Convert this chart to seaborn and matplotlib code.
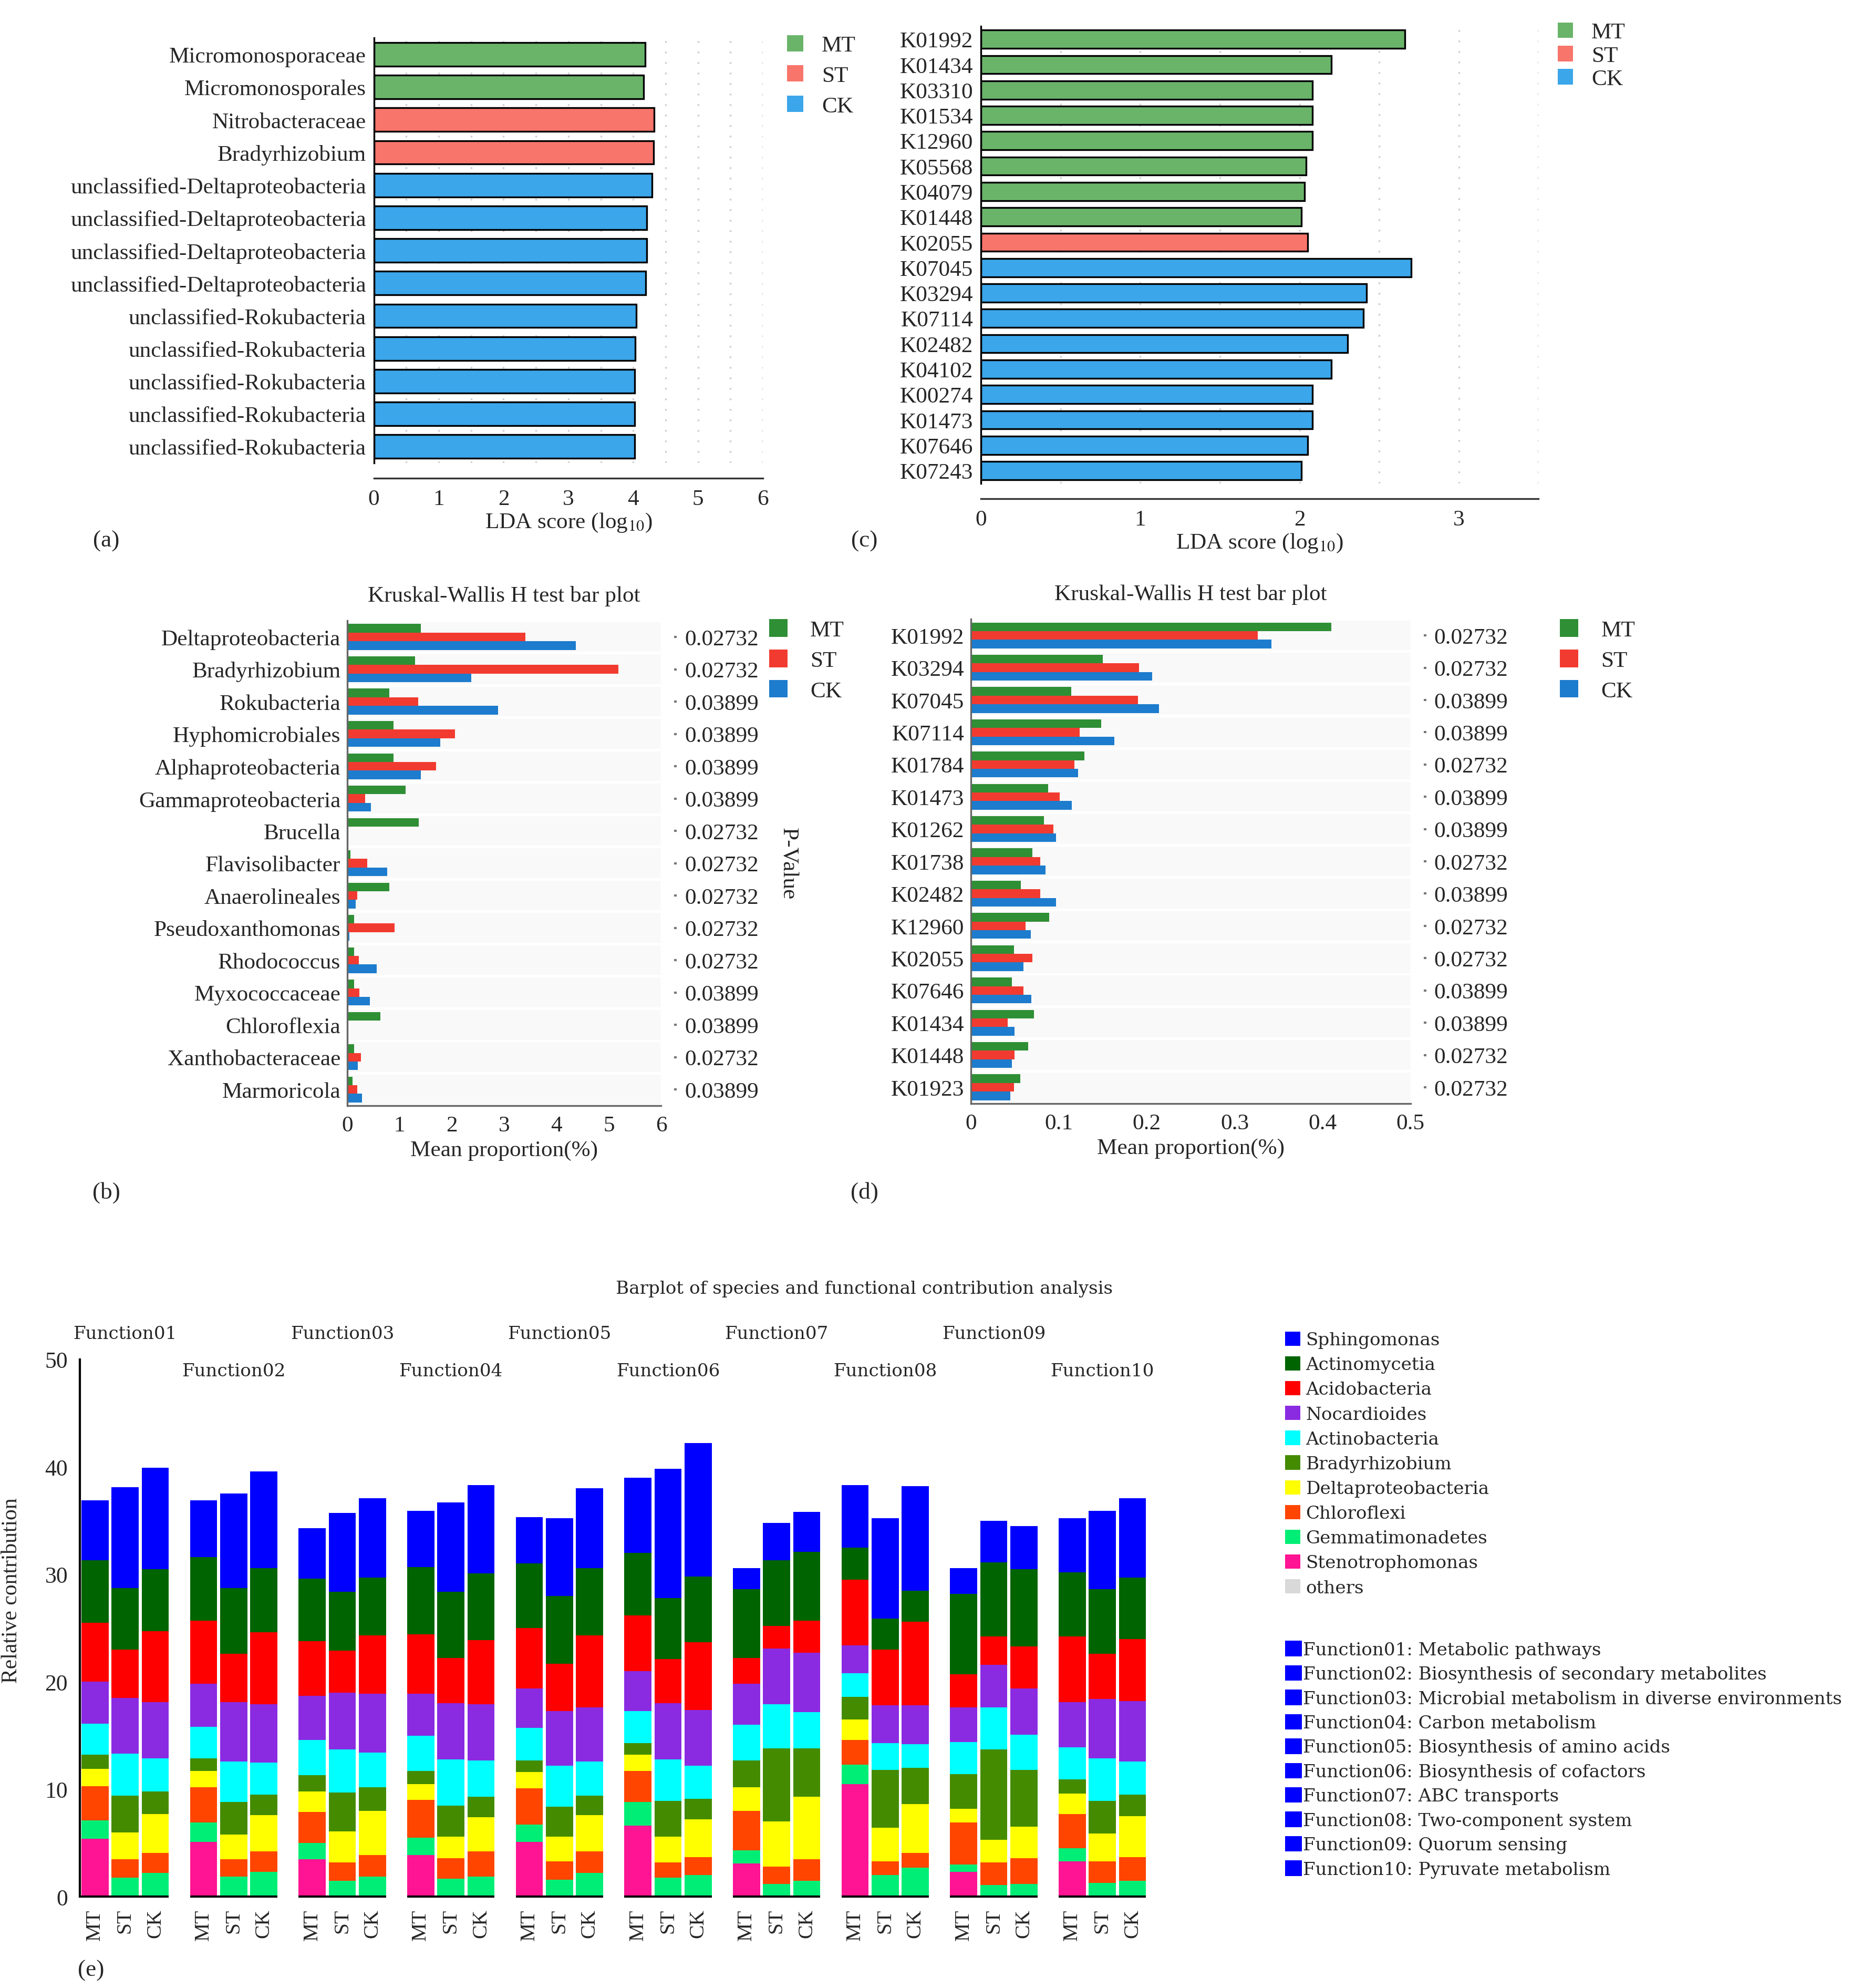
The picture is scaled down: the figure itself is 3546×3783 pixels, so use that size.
import numpy as np
import pandas as pd
import matplotlib
matplotlib.use("Agg")
import matplotlib.pyplot as plt
import seaborn as sns
from matplotlib.patches import Patch
from matplotlib.ticker import MultipleLocator, FuncFormatter

# ---------------- data ----------------
groups = ["MT", "ST", "CK"]

# (a) LEfSe, taxa
lda_a_taxa = ["Micromonosporaceae", "Micromonosporales", "Nitrobacteraceae", "Bradyrhizobium",
              "unclassified-Deltaproteobacteria", "unclassified-Deltaproteobacteria",
              "unclassified-Deltaproteobacteria", "unclassified-Deltaproteobacteria",
              "unclassified-Rokubacteria", "unclassified-Rokubacteria", "unclassified-Rokubacteria",
              "unclassified-Rokubacteria", "unclassified-Rokubacteria"]
lda_a_group = ["MT", "MT", "ST", "ST", "CK", "CK", "CK", "CK", "CK", "CK", "CK", "CK", "CK"]
lda_a_score = [4.18, 4.16, 4.32, 4.31, 4.29, 4.21, 4.21, 4.19, 4.05, 4.03, 4.02, 4.02, 4.02]

# (c) LEfSe, KO
lda_c_ko = ["K01992", "K01434", "K03310", "K01534", "K12960", "K05568", "K04079", "K01448", "K02055",
            "K07045", "K03294", "K07114", "K02482", "K04102", "K00274", "K01473", "K07646", "K07243"]
lda_c_group = ["MT", "MT", "MT", "MT", "MT", "MT", "MT", "MT", "ST",
               "CK", "CK", "CK", "CK", "CK", "CK", "CK", "CK", "CK"]
lda_c_score = [2.66, 2.20, 2.08, 2.08, 2.08, 2.04, 2.03, 2.01, 2.05,
               2.70, 2.42, 2.40, 2.30, 2.20, 2.08, 2.08, 2.05, 2.01]

# (b) Kruskal-Wallis, taxa (mean proportion %)
kw_b_taxa = ["Deltaproteobacteria", "Bradyrhizobium", "Rokubacteria", "Hyphomicrobiales",
             "Alphaproteobacteria", "Gammaproteobacteria", "Brucella", "Flavisolibacter",
             "Anaerolineales", "Pseudoxanthomonas", "Rhodococcus", "Myxococcaceae",
             "Chloroflexia", "Xanthobacteraceae", "Marmoricola"]
kw_b_mt = [1.41, 1.30, 0.80, 0.88, 0.88, 1.12, 1.37, 0.06, 0.80, 0.13, 0.13, 0.13, 0.63, 0.13, 0.10]
kw_b_st = [3.40, 5.18, 1.36, 2.06, 1.70, 0.34, 0.02, 0.38, 0.19, 0.90, 0.22, 0.23, 0.02, 0.26, 0.19]
kw_b_ck = [4.37, 2.37, 2.88, 1.78, 1.41, 0.45, 0.02, 0.76, 0.16, 0.04, 0.56, 0.43, 0.02, 0.20, 0.28]
kw_b_p = ["0.02732", "0.02732", "0.03899", "0.03899", "0.03899", "0.03899", "0.02732", "0.02732",
          "0.02732", "0.02732", "0.02732", "0.03899", "0.03899", "0.02732", "0.03899"]

# (d) Kruskal-Wallis, KO (mean proportion %)
kw_d_ko = ["K01992", "K03294", "K07045", "K07114", "K01784", "K01473", "K01262", "K01738",
           "K02482", "K12960", "K02055", "K07646", "K01434", "K01448", "K01923"]
kw_d_mt = [0.410, 0.150, 0.114, 0.148, 0.129, 0.088, 0.083, 0.070, 0.057, 0.089, 0.049, 0.047, 0.072, 0.065, 0.056]
kw_d_st = [0.326, 0.191, 0.190, 0.124, 0.118, 0.101, 0.094, 0.079, 0.079, 0.062, 0.070, 0.060, 0.042, 0.050, 0.049]
kw_d_ck = [0.342, 0.206, 0.214, 0.163, 0.122, 0.115, 0.097, 0.085, 0.097, 0.068, 0.060, 0.069, 0.050, 0.047, 0.045]
kw_d_p = ["0.02732", "0.02732", "0.03899", "0.03899", "0.02732", "0.03899", "0.03899", "0.02732",
          "0.03899", "0.02732", "0.02732", "0.03899", "0.03899", "0.02732", "0.02732"]

# (e) species contribution to functions, bars = Function01..10 x (MT, ST, CK)
functions = ["Function01", "Function02", "Function03", "Function04", "Function05",
             "Function06", "Function07", "Function08", "Function09", "Function10"]
function_names = ["Metabolic pathways", "Biosynthesis of secondary metabolites",
                  "Microbial metabolism in diverse environments", "Carbon metabolism",
                  "Biosynthesis of amino acids", "Biosynthesis of cofactors", "ABC transports",
                  "Two-component system", "Quorum sensing", "Pyruvate metabolism"]
species = ["Sphingomonas", "Actinomycetia", "Acidobacteria", "Nocardioides", "Actinobacteria",
           "Bradyrhizobium", "Deltaproteobacteria", "Chloroflexi", "Gemmatimonadetes",
           "Stenotrophomonas", "others"]
sphingomonas = [5.6, 9.4, 9.4, 5.3, 8.8, 9.0, 4.7, 7.3, 7.4, 5.2, 8.3, 8.2, 4.3, 7.2, 7.4,
                7.0, 12.0, 12.4, 2.0, 3.5, 3.7, 5.8, 9.3, 9.7, 2.4, 3.9, 4.0, 5.0, 7.3, 7.4]
actinomycetia = [5.8, 5.7, 5.8, 5.9, 6.1, 6.0, 5.8, 5.5, 5.4, 6.3, 6.2, 6.2, 6.0, 6.3, 6.3,
                 5.8, 5.7, 6.1, 6.4, 6.1, 6.4, 3.0, 2.9, 2.9, 7.5, 6.9, 7.2, 6.0, 6.0, 5.7]
acidobacteria = [5.5, 4.5, 6.6, 5.9, 4.5, 6.7, 5.1, 3.9, 5.4, 5.5, 4.2, 6.0, 5.6, 4.4, 6.7,
                 5.2, 4.1, 6.3, 2.4, 2.1, 3.0, 6.1, 5.2, 7.8, 3.1, 2.6, 3.9, 6.1, 4.2, 5.8]
nocardioides = [3.9, 5.2, 5.2, 4.0, 5.5, 5.4, 4.1, 5.3, 5.5, 3.9, 5.2, 5.2, 3.7, 5.1, 5.0,
                3.7, 5.2, 5.2, 3.8, 5.2, 5.5, 2.6, 3.5, 3.6, 3.2, 4.0, 4.3, 4.2, 5.5, 5.6]
actinobacteria = [2.9, 3.9, 3.1, 2.9, 3.8, 3.0, 3.3, 4.0, 3.2, 3.3, 4.3, 3.4, 3.0, 3.8, 3.2,
                  3.0, 3.9, 3.1, 3.3, 4.1, 3.4, 2.2, 2.5, 2.2, 3.0, 3.9, 3.3, 3.0, 4.0, 3.1]
bradyrhizobium = [1.3, 3.4, 2.1, 1.2, 3.0, 1.9, 1.5, 3.6, 2.2, 1.2, 2.9, 1.9, 1.1, 2.8, 1.8,
                  1.1, 3.3, 1.9, 2.5, 6.8, 4.5, 2.1, 5.4, 3.4, 3.2, 8.4, 5.3, 1.3, 3.0, 2.0]
deltaproteobacteria = [1.6, 2.5, 3.6, 1.5, 2.3, 3.4, 1.9, 2.9, 4.1, 1.5, 2.0, 3.2, 1.5, 2.3, 3.4,
                       1.5, 2.4, 3.5, 2.2, 4.2, 5.8, 1.9, 3.1, 4.5, 1.3, 2.1, 2.9, 1.9, 2.6, 3.8]
chloroflexi = [3.2, 1.7, 1.9, 3.3, 1.6, 1.9, 2.9, 1.7, 2.0, 3.5, 1.9, 2.3, 3.4, 1.7, 2.0,
               2.9, 1.4, 1.7, 3.7, 1.6, 2.0, 2.3, 1.3, 1.4, 3.9, 2.1, 2.4, 3.2, 2.0, 2.2]
gemmatimonadetes = [1.7, 1.8, 2.2, 1.8, 1.9, 2.3, 1.5, 1.5, 1.9, 1.6, 1.7, 1.9, 1.6, 1.6, 2.2,
                    2.2, 1.8, 2.0, 1.2, 1.2, 1.5, 1.8, 2.0, 2.7, 0.7, 1.1, 1.2, 1.2, 1.3, 1.5]
stenotrophomonas = [5.4, 0, 0, 5.1, 0, 0, 3.5, 0, 0, 3.9, 0, 0, 5.1, 0, 0,
                    6.6, 0, 0, 3.1, 0, 0, 10.5, 0, 0, 2.3, 0, 0, 3.3, 0, 0]
others = [0] * 30

species_values = [sphingomonas, actinomycetia, acidobacteria, nocardioides, actinobacteria,
                  bradyrhizobium, deltaproteobacteria, chloroflexi, gemmatimonadetes,
                  stenotrophomonas, others]
species_colors = ["#0000FF", "#006400", "#FF0000", "#8A2BE2", "#00FFFF", "#458B00",
                  "#FFFF00", "#FF4500", "#00EE76", "#FF1493", "#D9D9D9"]

lefse_colors = {"MT": "#6AB46A", "ST": "#F8756B", "CK": "#3BA6EA"}
kw_colors = {"MT": "#2F8F35", "ST": "#F23B30", "CK": "#1D7CCD"}

# ---------------- figure ----------------
sns.set_style("white")
plt.rcParams["font.family"] = ["Liberation Serif", "DejaVu Serif"]
plt.rcParams["mathtext.fontset"] = "stix"

FS = 10.4
W, H = 1470.0, 1569.0
fig = plt.figure(figsize=(11.82, 12.613), dpi=300)


def box(x0, y0, x1, y1):
    return [x0 / W, 1 - y1 / H, (x1 - x0) / W, (y1 - y0) / H]


def square_legend(colors, labels, anchor, fs, size, spacing, pad, family=None):
    handles = [Patch(facecolor=c, edgecolor="none") for c in colors]
    prop = {"size": fs}
    if family:
        prop["family"] = family
    return fig.legend(handles, labels, loc="upper left", bbox_to_anchor=(anchor[0] / W, 1 - anchor[1] / H),
                      frameon=False, prop=prop, handlelength=size, handleheight=size,
                      handletextpad=pad, labelspacing=spacing, borderpad=0, borderaxespad=0)


def lefse_panel(rect, labels, scores, grp, xmax):
    ax = fig.add_axes(rect)
    df = pd.DataFrame({"row": range(len(labels)), "score": scores, "group": grp})
    sns.barplot(data=df, x="score", y="row", hue="group", hue_order=groups, orient="y",
                palette=lefse_colors, dodge=False, width=0.72, saturation=1,
                edgecolor="black", linewidth=0.8, legend=False, ax=ax)
    ax.set_xlim(0, xmax)
    ax.set_ylim(len(labels) - 0.5, -0.5)
    ax.set_yticks(range(len(labels)))
    ax.set_yticklabels(labels)
    ax.set_ylabel("")
    ax.set_xlabel("LDA score (log$_{10}$)", fontsize=FS, labelpad=1)
    ax.xaxis.set_major_locator(MultipleLocator(1))
    ax.xaxis.set_minor_locator(MultipleLocator(0.5))
    ax.grid(axis="x", which="both", linestyle=(0, (1, 5)), color="#cfcfcf", linewidth=0.8)
    ax.set_axisbelow(True)
    for s in ["top", "right"]:
        ax.spines[s].set_visible(False)
    ax.spines["bottom"].set_position(("outward", 7))
    ax.spines["bottom"].set_color("#333333")
    ax.spines["left"].set_color("black")
    ax.tick_params(axis="y", length=0, pad=3.5, labelsize=FS)
    ax.tick_params(axis="x", which="both", length=3.5, width=0.8, color="#333333",
                   direction="out", labelsize=FS, pad=1.5)
    return ax


def kw_panel(rect, labels, mt, st, ck, pvals, xmax, step, title):
    ax = fig.add_axes(rect)
    df = pd.DataFrame({"name": labels, "MT": mt, "ST": st, "CK": ck})
    df = df.melt(id_vars="name", var_name="group", value_name="prop")
    for i in range(len(labels)):
        ax.axhspan(i - 0.46, i + 0.46, color="#f9f9f9", lw=0, zorder=0)
    sns.barplot(data=df, x="prop", y="name", hue="group", hue_order=groups, order=labels,
                orient="y", palette=kw_colors, width=0.8, saturation=1, errorbar=None,
                linewidth=0, legend=False, ax=ax)
    ax.set_xlim(0, xmax)
    ax.set_ylim(len(labels) - 0.5, -0.5)
    ax.xaxis.set_major_locator(MultipleLocator(step))
    ax.xaxis.set_major_formatter(FuncFormatter(lambda v, p: f"{v:g}"))
    ax.set_ylabel("")
    ax.set_xlabel("Mean proportion(%)", fontsize=FS, labelpad=2)
    ax.set_title(title, fontsize=FS, pad=9)
    for s in ["top", "right"]:
        ax.spines[s].set_visible(False)
    for s in ["left", "bottom"]:
        ax.spines[s].set_color("#666666")
        ax.spines[s].set_linewidth(0.8)
    ax.tick_params(axis="y", length=0, pad=3, labelsize=FS)
    ax.tick_params(axis="x", length=3, width=0.8, color="#444444", labelsize=FS, pad=1.5)

    ax2 = ax.twinx()
    ax2.set_ylim(ax.get_ylim())
    ax2.set_yticks(range(len(pvals)))
    ax2.set_yticklabels(pvals)
    for s in ax2.spines.values():
        s.set_visible(False)
    ax2.spines["right"].set_position(("outward", 6))
    ax2.tick_params(axis="y", length=1.2, width=1.0, color="#777777", pad=3.5, labelsize=FS)
    return ax, ax2


# (a)
ax_a = lefse_panel(box(295, 30.4, 602, 365.6), lda_a_taxa, lda_a_score, lda_a_group, 6)
square_legend([lefse_colors[g] for g in groups], groups, (621, 28), FS, 0.72, 0.42, 0.8)
fig.text(84 / W, 1 - 427 / H, "(a)", ha="center", va="center", fontsize=FS + 0.5)

# (c)
ax_c = lefse_panel(box(774, 21.3, 1214, 381.7), lda_c_ko, lda_c_score, lda_c_group, 3.5)
square_legend([lefse_colors[g] for g in groups], groups, (1229, 18), FS, 0.68, 0.12, 0.8)
fig.text(682 / W, 1 - 427 / H, "(c)", ha="center", va="center", fontsize=FS + 0.5)

# (b)
ax_b, ax_b2 = kw_panel(box(274, 490.2, 521.7, 872.8), kw_b_taxa, kw_b_mt, kw_b_st, kw_b_ck,
                       kw_b_p, 6, 1, "Kruskal-Wallis H test bar plot")
ax_b2.set_ylabel("P-Value", rotation=270, fontsize=FS, labelpad=18)
square_legend([kw_colors[g] for g in groups], groups, (607, 489), FS, 0.8, 0.4, 1.0)
fig.text(84 / W, 1 - 941 / H, "(b)", ha="center", va="center", fontsize=FS + 0.5)

# (d)
ax_d, ax_d2 = kw_panel(box(766, 489, 1113, 871), kw_d_ko, kw_d_mt, kw_d_st, kw_d_ck,
                       kw_d_p, 0.5, 0.1, "Kruskal-Wallis H test bar plot")
square_legend([kw_colors[g] for g in groups], groups, (1231, 489), FS, 0.8, 0.4, 1.0)
fig.text(682 / W, 1 - 941 / H, "(d)", ha="center", va="center", fontsize=FS + 0.5)

# (e) stacked bars
SERIF_WIDE = "DejaVu Serif"
FS_E = 8.2
GROUP_STEP = 3.6
ax_e = fig.add_axes(box(63, 1073, 905, 1497))
xpos = [g * GROUP_STEP + k for g in range(len(functions)) for k in range(len(groups))]
stack_bottom_up = np.array(species_values[:-1][::-1], dtype=float)
colors_bottom_up = species_colors[:-1][::-1]
cum = stack_bottom_up.cumsum(axis=0)
for i in range(len(cum) - 1, -1, -1):
    sns.barplot(x=xpos, y=cum[i], native_scale=True, orient="x", color=colors_bottom_up[i],
                width=0.9, saturation=1, linewidth=0, errorbar=None, ax=ax_e)

ax_e.set_xlim(-0.5, xpos[-1] + 0.48)
ax_e.set_ylim(0, 50)
ax_e.set_yticks(range(0, 51, 10))
ax_e.set_xticks(xpos)
ax_e.set_xticklabels(groups * len(functions), rotation=90, fontsize=9.5)
ax_e.tick_params(axis="y", labelsize=10.5, length=3.5, width=1.0, color="black", pad=2)
ax_e.tick_params(axis="x", length=3.5, width=1.0, color="black", pad=2)
ax_e.set_ylabel("Relative contribution", fontsize=10)
ax_e.yaxis.set_label_coords(-0.0546, 0.571)
for s in ["top", "right", "bottom"]:
    ax_e.spines[s].set_visible(False)
ax_e.spines["left"].set_color("black")
ax_e.spines["left"].set_linewidth(1.0)
starts = [g * GROUP_STEP - 0.45 for g in range(len(functions))]
ends = [g * GROUP_STEP + 2.45 for g in range(len(functions))]
starts[0] = -0.5
ax_e.hlines([0] * len(functions), starts, ends, colors="black", linewidth=1.0, clip_on=False)
for g, name in enumerate(functions):
    ax_e.text(g * GROUP_STEP + 1, 52.4 if g % 2 == 0 else 48.9, name, ha="center", va="center",
              family=SERIF_WIDE, fontsize=FS_E, clip_on=False)

fig.text(682 / W, 1 - 1017 / H, "Barplot of species and functional contribution analysis",
         ha="center", va="center", family=SERIF_WIDE, fontsize=FS_E)
fig.text(72 / W, 1 - 1555 / H, "(e)", ha="center", va="center", fontsize=FS + 0.5)

square_legend(species_colors, species, (1014, 1051), FS_E, 0.85, 0.43, 0.3, family=SERIF_WIDE)
square_legend(["#0000FF"] * len(functions),
              [f"{f}: {n}" for f, n in zip(functions, function_names)],
              (1014, 1295), FS_E, 0.95, 0.38, 0.05, family=SERIF_WIDE)

fig.savefig("out.png", dpi=300)
